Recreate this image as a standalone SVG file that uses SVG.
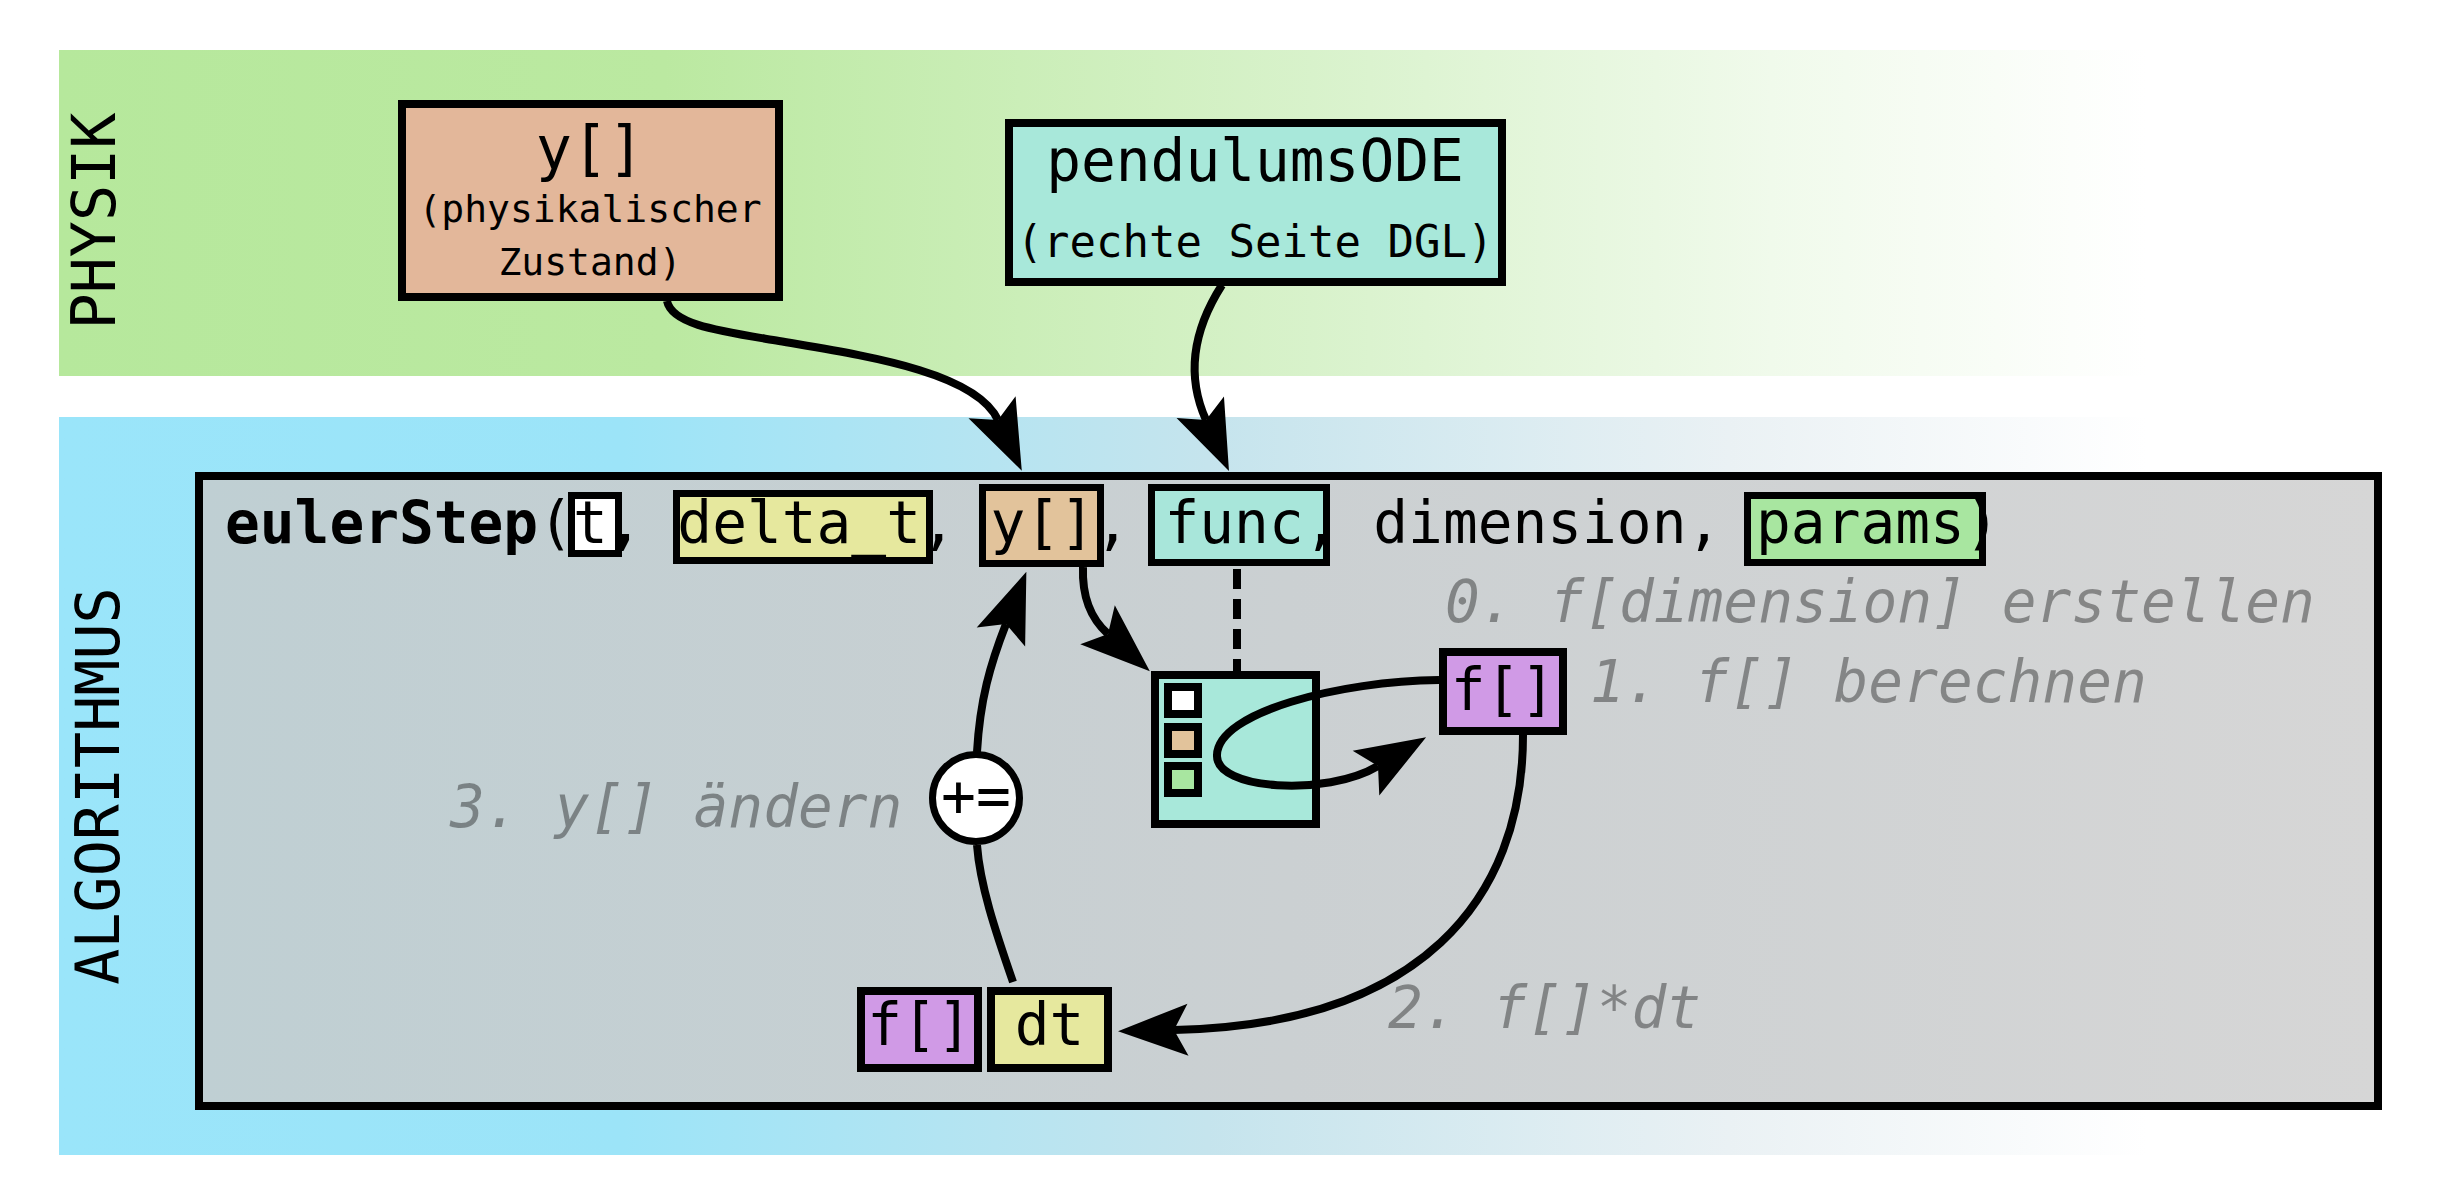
<svg xmlns="http://www.w3.org/2000/svg" width="2447" height="1199" viewBox="0 0 2447 1199">
<style>
.mono{font-family:"DejaVu Sans Mono","Liberation Mono",monospace;fill:#000}
.note{font-family:"DejaVu Sans Mono","Liberation Mono",monospace;font-style:italic;fill:#000;fill-opacity:0.37;font-size:57.8px}
.box{stroke:#000;stroke-width:8}
.edge{fill:none;stroke:#000;stroke-width:8}
.fr{fill:none;stroke:#000;stroke-width:7}
</style>
<defs>
<linearGradient id="gGreen" x1="59" y1="0" x2="2147" y2="0" gradientUnits="userSpaceOnUse">
<stop offset="0" stop-color="#b6e89c"/>
<stop offset="0.29" stop-color="#bbe9a1"/>
<stop offset="0.6" stop-color="#d8f2cb"/>
<stop offset="0.82" stop-color="#f0faeb"/>
<stop offset="1" stop-color="#ffffff"/>
</linearGradient>
<linearGradient id="gBlue" x1="59" y1="0" x2="2147" y2="0" gradientUnits="userSpaceOnUse">
<stop offset="0" stop-color="#9ae5fa"/>
<stop offset="0.27" stop-color="#9ce4f8"/>
<stop offset="0.55" stop-color="#c5e4ed"/>
<stop offset="0.8" stop-color="#eaf1f4"/>
<stop offset="1" stop-color="#ffffff"/>
</linearGradient>
<linearGradient id="gGray" x1="199" y1="0" x2="2378" y2="0" gradientUnits="userSpaceOnUse">
<stop offset="0" stop-color="#bfcfd3"/>
<stop offset="0.5" stop-color="#cbd0d2"/>
<stop offset="1" stop-color="#d6d6d6"/>
</linearGradient>
<marker id="arr" markerUnits="userSpaceOnUse" orient="auto" refX="0" refY="0" markerWidth="120" markerHeight="120" overflow="visible">
<path d="M 56 0 L -14 -26 L 0 0 L -14 26 Z" fill="#000"/>
</marker>
</defs>

<g id="band-physik">
<rect x="59" y="50" width="2088" height="326" fill="url(#gGreen)"/>
<text class="mono" font-size="60" text-anchor="middle" transform="translate(115,221) rotate(-90)">PHYSIK</text>
</g>
<g id="band-algorithmus">
<rect x="59" y="417" width="2088" height="738" fill="url(#gBlue)"/>
<text class="mono" font-size="60" text-anchor="middle" transform="translate(119,786) rotate(-90)">ALGORITHMUS</text>
</g>

<g id="eulerStep">
<rect class="box" x="199" y="476" width="2179" height="630" fill="url(#gGray)"/>
<rect x="571.5" y="495.5" width="47" height="58" fill="#ffffff"/>
<rect x="676.5" y="493.5" width="253" height="67" fill="#e6e89e"/>
<rect x="982.5" y="487.5" width="118" height="76" fill="#e2c39b"/>
<rect x="1151.5" y="487.5" width="175" height="75" fill="#a8e6da"/>
<rect x="1747.5" y="495.5" width="235" height="67" fill="#a8e6a0"/>
<text class="mono" x="225" y="543" font-size="57.8" xml:space="preserve"><tspan font-weight="bold">eulerStep</tspan>(t, delta_t, y[], func, dimension, params)</text>
<rect class="fr" x="571.5" y="495.5" width="47" height="58"/>
<rect class="fr" x="676.5" y="493.5" width="253" height="67"/>
<rect class="fr" x="982.5" y="487.5" width="118" height="76"/>
<rect class="fr" x="1151.5" y="487.5" width="175" height="75"/>
<rect class="fr" x="1747.5" y="495.5" width="235" height="67"/>
</g>

<g id="node-y-state">
<rect class="box" x="402" y="104" width="377" height="193" fill="#e3b79a"/>
<text class="mono" x="590" y="169" font-size="60" text-anchor="middle">y[]</text>
<text class="mono" x="590" y="222" font-size="38" text-anchor="middle">(physikalischer</text>
<text class="mono" x="590" y="275" font-size="38" text-anchor="middle">Zustand)</text>
</g>

<g id="node-pendulumsODE">
<rect class="box" x="1009" y="123" width="493" height="159" fill="#a8e8da"/>
<text class="mono" x="1255" y="181" font-size="57.8" text-anchor="middle">pendulumsODE</text>
<text class="mono" x="1255" y="257" font-size="44" text-anchor="middle">(rechte Seite DGL)</text>
</g>

<g id="node-func">
<rect class="box" x="1155" y="675" width="161" height="149" fill="#a8e8da"/>
<rect class="box" x="1168" y="687" width="30" height="27" fill="#ffffff"/>
<rect class="box" x="1168" y="727" width="30" height="27" fill="#e2c39b"/>
<rect class="box" x="1168" y="766" width="30" height="27" fill="#a8e6a0"/>
</g>

<g id="node-f">
<rect class="box" x="1443" y="652" width="120" height="79" fill="#d09ae6"/>
<text class="mono" x="1503" y="710" font-size="57.8" text-anchor="middle">f[]</text>
</g>

<g id="node-fdt">
<rect class="box" x="861" y="991" width="117" height="77" fill="#d09ae6"/>
<text class="mono" x="919.5" y="1045" font-size="57.8" text-anchor="middle">f[]</text>
<rect class="box" x="991" y="991" width="117" height="77" fill="#e6e89e"/>
<text class="mono" x="1049.5" y="1045" font-size="57.8" text-anchor="middle">dt</text>
</g>

<g id="connectors">
<path class="edge" d="M 667 301 C 672 325 720 331 779 341 C 860 355 975 371 998 420" marker-end="url(#arr)"/>
<path class="edge" d="M 1222 285 C 1190 335 1188 380 1206 420" marker-end="url(#arr)"/>
<path class="edge" d="M 1083 567 C 1082 595 1090 618 1108 634" marker-end="url(#arr)"/>
<path d="M 1237 569 L 1237 671" fill="none" stroke="#000" stroke-width="8" stroke-dasharray="20 10"/>
<path class="edge" d="M 1439 680 C 1340 681 1218 712 1217 755 C 1215 790 1326 797 1378 766" marker-end="url(#arr)"/>
<path class="edge" d="M 1523 735 C 1523 900 1420 1025 1174 1030" marker-end="url(#arr)"/>
<path class="edge" d="M 1013 982 C 995 930 980 885 977 845"/>
<path class="edge" d="M 977 752 C 980 700 990 665 1006 624" marker-end="url(#arr)"/>
</g>

<g id="node-pluseq">
<circle cx="976" cy="798" r="43.5" fill="#ffffff" stroke="#000" stroke-width="7"/>
<text class="mono" x="976" y="816" font-size="58" text-anchor="middle">+=</text>
</g>

<g id="notes">
<text class="note" x="1445" y="622">0. f[dimension] erstellen</text>
<text class="note" x="1590" y="702">1. f[] berechnen</text>
<text class="note" x="1388" y="1028">2. f[]*dt</text>
<text class="note" x="450" y="827">3. y[] ändern</text>
</g>
</svg>
